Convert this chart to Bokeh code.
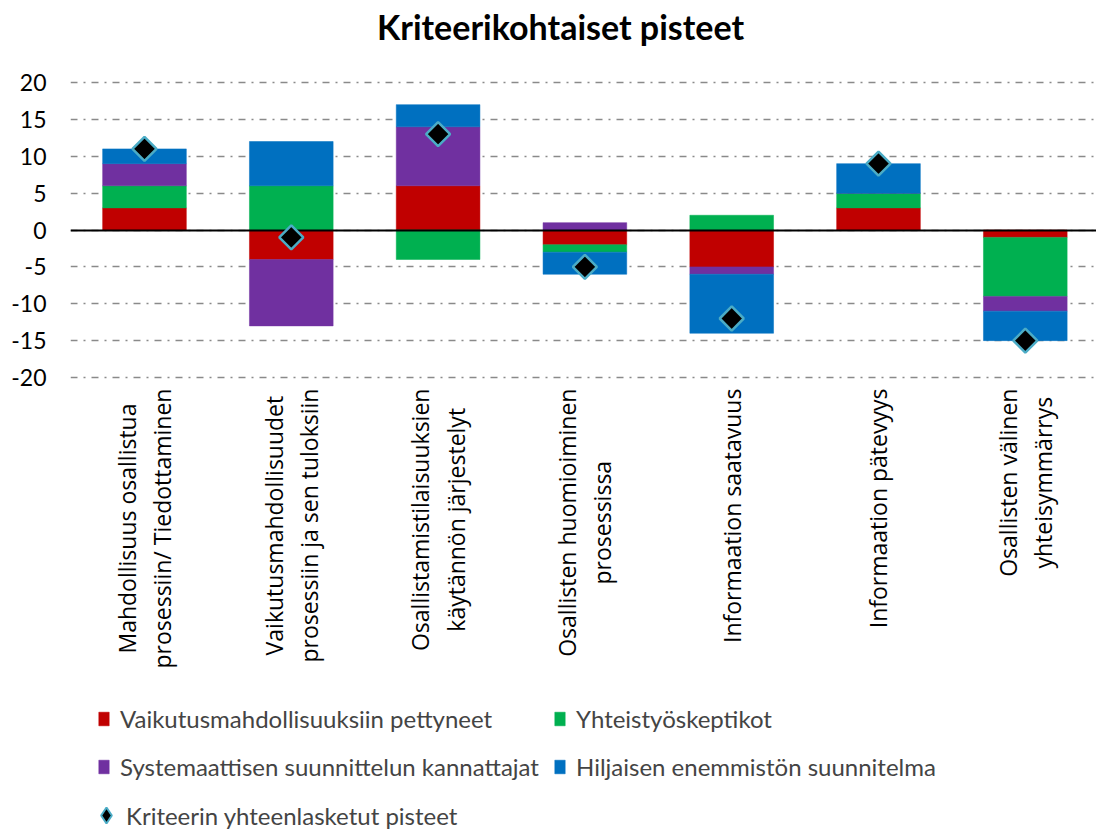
import math
from bokeh.plotting import figure
from bokeh.models import Range1d, FixedTicker, Legend, LegendItem, Label
from bokeh.core.properties import value
from bokeh.embed import file_html
from bokeh.resources import INLINE

# ---------------- data ----------------
categories = [
    "Mahdollisuus osallistua\nprosessiin/ Tiedottaminen",
    "Vaikutusmahdollisuudet\nprosessiin ja sen tuloksiin",
    "Osallistamistilaisuuksien\nkäytännön järjestelyt",
    "Osallisten huomioiminen\nprosessissa",
    "Informaation saatavuus",
    "Informaation pätevyys",
    "Osallisten välinen\nyhteisymmärrys",
]
series_names = [
    "Vaikutusmahdollisuuksiin pettyneet",
    "Yhteistyöskeptikot",
    "Systemaattisen suunnittelun kannattajat",
    "Hiljaisen enemmistön suunnitelma",
]
pettyneet = [3, -4, 6, -2, -5, 3, -1]
skeptikot = [3, 6, -4, -1, 2, 2, -8]
systemaattiset = [3, -9, 8, 1, -1, 0, -2]
hiljaiset = [2, 6, 3, -3, -8, 4, -4]
total_name = "Kriteerin yhteenlasketut pisteet"
y_ticks = [-20, -15, -10, -5, 0, 5, 10, 15, 20]
y_tick_labels = ["-20", "-15", "-10", "-5", "0", "5", "10", "15", "20"]
title_text = "Kriteerikohtaiset pisteet"

colors = ["#C00000", "#00B050", "#7030A0", "#0070C0"]
series = [pettyneet, skeptikot, systemaattiset, hiljaiset]
x = list(range(len(categories)))
totals = [sum(v) for v in zip(*series)]

# ---------------- figure ----------------
W, H = 1096, 829
p = figure(width=W, height=H, output_backend="svg", toolbar_location=None,
           x_range=Range1d(-0.504, 6.485), y_range=Range1d(-81.29, 31.12),
           min_border_left=70, min_border_right=0, min_border_top=0, min_border_bottom=0)
p.outline_line_color = None
p.background_fill_color = "white"

p.xaxis.visible = False
p.xgrid.visible = False

p.yaxis.ticker = FixedTicker(ticks=y_ticks)
p.yaxis.major_label_overrides = {t: l for t, l in zip(y_ticks, y_tick_labels)}
p.yaxis.axis_line_color = None
p.yaxis.major_tick_line_color = None
p.yaxis.minor_tick_line_color = None
p.yaxis.major_label_text_font = "Lato"
p.yaxis.major_label_text_font_size = "23px"
p.yaxis.major_label_text_color = "black"
p.yaxis.major_label_standoff = 18

p.ygrid.ticker = FixedTicker(ticks=y_ticks)
p.ygrid.grid_line_color = "#8a8a8a"
p.ygrid.grid_line_width = 1.6
p.ygrid.grid_line_dash = "7 6 2 6"

# title
title = Label(x=490, y=H - 26, x_units="screen", y_units="screen", text=title_text,
              text_align="center", text_baseline="middle", text_font="Lato",
              text_font_size="34px", text_font_style="bold", text_color="black")
p.add_layout(title)

# stacked bars (positives and negatives stacked separately)
pos = [0.0] * len(x)
neg = [0.0] * len(x)
bar_renderers = []
for vals, col in zip(series, colors):
    bottoms, tops = [], []
    for i, v in enumerate(vals):
        if v >= 0:
            bottoms.append(pos[i]); tops.append(pos[i] + v); pos[i] += v
        else:
            bottoms.append(neg[i]); tops.append(neg[i] + v); neg[i] += v
    r = p.vbar(x=x, bottom=bottoms, top=tops, width=0.57, fill_color=col,
               line_color=col, line_width=0.5)
    bar_renderers.append(r)

p.hspan(y=[0], line_color="black", line_width=2)

# diamond glyph (used for the legend key) underneath the square-diamond markers
tot_key = p.scatter(x=x, y=totals, marker="diamond", size=18,
                    fill_color="black", line_color="#4BACC6", line_width=2)
p.scatter(x=x, y=totals, marker="square", angle=math.pi / 4, size=17,
          fill_color="black", line_color="#4BACC6", line_width=2.5)

# category labels
p.text(x=x, y=[-21.5] * len(x), text=categories, angle=math.pi / 2,
       anchor="center_right", text_align="center", text_baseline="middle",
       text_font=value("Open Sans"), text_font_size="23px", text_color="black",
       text_line_height=1.1)

legend_kw = dict(label_text_font="Lato", label_text_font_size="24px",
                 label_height=48, spacing=0, padding=0, margin=0,
                 border_line_color=None, background_fill_alpha=0)
items = [LegendItem(label=n, renderers=[r]) for n, r in zip(series_names, bar_renderers)]
legend_a = Legend(items=items, location=(27, 39), ncols=2, orientation="horizontal",
                  label_width=433, glyph_width=13, glyph_height=17, label_standoff=10,
                  **legend_kw)
legend_b = Legend(items=[LegendItem(label=total_name, renderers=[tot_key])],
                  location=(16, -10), glyph_width=40, glyph_height=48, label_standoff=0,
                  **legend_kw)
p.add_layout(legend_a, "center")
p.add_layout(legend_b, "center")

open("out.html", "w").write(file_html(p, INLINE))
